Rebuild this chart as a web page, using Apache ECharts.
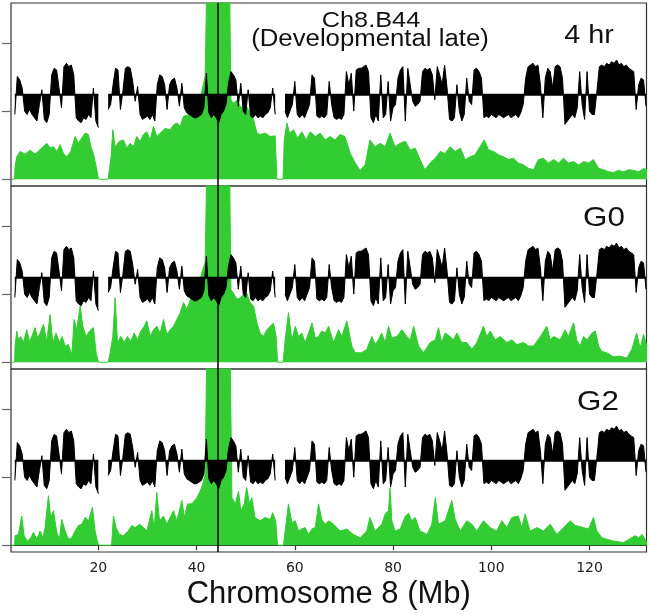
<!DOCTYPE html>
<html>
<head>
<meta charset="utf-8">
<script src="https://cdn.jsdelivr.net/npm/echarts@6/dist/echarts.min.js"></script>
<style>
html, body { margin: 0; padding: 0; background: #fff; }
#chart { width: 649px; height: 614px; }
</style>
</head>
<body>
<div id="chart"></div>
<script>
// black replication-timing track, same in all three panels, sampled every 0.5 Mb from 3.0 Mb
const blackStart = 3.0;
const blackStep = 0.5;
const blackVals = [
  -0.6, 0.55, 0.45, 0.2, -0.5, -0.6, -0.45, -0.6, -0.7, -0.8,
  -0.3, 0.15, -0.75, -0.85, -0.6, 0.6, 0.8, 0.75, 0.2, -0.4,
  0.85, 0.95, 0.85, 0.9, 0.6, -0.7, -0.8, -0.85, -0.7, -0.75,
  -0.6, -0.7, 0.2, -0.8, -1.0, null, null, null, -0.45, -0.3,
  0.3, 0.8, 0.75, -0.45, 0.1, 0.8, 0.85, 0.8, 0.4, -0.2,
  0.25, -0.6, -0.75, -0.7, -0.65, -0.75, -0.6, -0.8, 0.3, 0.6,
  0.55, 0.3, -0.45, 0.3, 0.45, 0.5, 0.2, -0.35, 0.35, -0.4,
  -0.55, -0.6, -0.65, -0.7, -0.7, -0.65, -0.6, -0.4, 0.65, -0.55,
  -0.7, -0.6, -0.7, -0.85, -0.6, -0.5, -0.3, 0.35, 0.7, 0.6,
  0.45, -0.35, 0.35, -0.5, -0.6, 0.15, -0.65, -0.7, -0.6, -0.7,
  -0.65, -0.7, -0.6, -0.55, -0.4, 0.2, -0.6, null, null, null,
  -0.5, -0.7, -0.5, -0.3, 0.4, -0.6, -0.7, -0.6, -0.7, -0.5,
  -0.3, 0.6, 0.5, -0.65, -0.7, -0.65, -0.7, -0.6, 0.4, -0.3,
  -0.7, -0.75, -0.7, -0.75, -0.6, 0.7, 0.3, 0.65, -0.5, 0.75,
  0.8, 0.8, 0.85, 0.9, 0.7, -0.7, -0.85, -0.6, -0.8, 0.6,
  -0.7, -0.6, 0.4, -0.8, -0.4, -0.3, 0.5, 0.75, 0.85, -0.8,
  0.8, 0.3, -0.2, -0.35, -0.3, -0.2, 0.7, 0.8, 0.75, 0.8,
  0.6, -0.15, 0.85, 0.6, 0.3, 0.9, 0.2, -0.75, -0.8, -0.7,
  0.3, -0.5, -0.8, -0.6, 0.5, -0.2, -0.3, 0.75, 0.8, 0.7,
  0.5, -0.7, -0.65, -0.7, -0.6, -0.65, -0.7, -0.6, -0.65, -0.7,
  -0.65, -0.6, -0.7, -0.65, -0.6, -0.7, -0.55, -0.3, 0.5, 0.85,
  0.9, 0.95, 0.85, 0.9, 0.3, -0.7, 0.5, 0.8, 0.7, 0.2,
  0.85, 0.9, 0.85, 0.5, -0.9, -0.8, -0.7, -0.6, -0.7, -0.4,
  0.7, -0.3, -0.75, 0.7, -0.5, -0.6, -0.6, 0.1, 0.85, 0.9,
  0.85, 0.95, 0.9, 1.0, 0.95, 1.05, 0.9, 0.95, 0.85, 0.9,
  0.8, 0.75, 0.7, -0.45, 0.3, 0.5, 0.45, -0.35
];

// green signal tracks, [Mb, value]
const green4hr = [
  [2.3,0],[2.95,0],[3.05,0.19],[3.4,0.33],[4.07,0.41],[5.09,0.37],[6.11,0.43],[7.13,0.37],[8.15,0.44],
  [9.5,0.53],[10.18,0.46],[10.86,0.48],[11.54,0.41],[12.22,0.51],[12.9,0.38],[13.58,0.33],[14.39,0.41],
  [15.27,0.63],[15.95,0.53],[16.63,0.61],[17.31,0.68],[17.99,0.66],[18.47,0.48],[19.0,0.38],[19.55,0.19],
  [20.03,0],[22.0,0],[22.6,0.33],[22.95,0.73],[23.42,0.48],[24.3,0.56],[25.12,0.58],[25.8,0.46],
  [26.48,0.53],[27.16,0.48],[27.83,0.63],[28.51,0.56],[29.19,0.66],[29.87,0.7],[30.55,0.58],[31.23,0.78],
  [31.91,0.63],[32.59,0.68],[33.6,0.75],[34.62,0.73],[35.3,0.8],[35.98,0.83],[36.66,0.78],[37.34,0.93],
  [38.36,0.95],[39.38,1.02],[40.05,1.07],[40.73,1.17],[41.28,1.37],[41.75,1.52],[42.1,3.0],[46.7,3.0],
  [47.0,1.17],[47.5,1.12],[48.3,1.17],[48.9,1.07],[49.56,1.05],[50.2,1.07],[50.9,0.98],[51.6,0.88],
  [52.3,0.68],[52.95,0.66],[53.97,0.68],[55.0,0.63],[56.0,0.64],[56.35,0],[57.6,0],[57.85,0.58],
  [58.4,0.83],[58.93,0.68],[59.74,0.73],[60.56,0.61],[61.44,0.7],[62.32,0.58],[63.14,0.7],[64.16,0.63],
  [65.17,0.68],[66.2,0.58],[67.19,0.63],[68.2,0.58],[69.2,0.66],[70.2,0.63],[71.3,0.38],[72.3,0.24],
  [73.3,0.13],[74.3,0.21],[75.3,0.58],[76.35,0.48],[77.4,0.53],[78.4,0.48],[79.4,0.68],[80.4,0.48],
  [81.4,0.53],[82.5,0.56],[83.5,0.43],[84.5,0.46],[85.5,0.29],[86.5,0.14],[87.55,0.24],[88.6,0.31],
  [89.6,0.41],[90.6,0.38],[91.6,0.48],[92.65,0.41],[93.7,0.46],[94.7,0.29],[95.7,0.33],[96.7,0.36],
  [97.7,0.48],[98.55,0.58],[99.45,0.43],[100.45,0.41],[101.5,0.36],[102.5,0.33],[103.5,0.29],[104.5,0.31],
  [105.5,0.24],[106.6,0.21],[107.6,0.16],[108.6,0.14],[109.6,0.29],[110.6,0.31],[111.65,0.24],[112.7,0.29],
  [113.7,0.24],[114.7,0.31],[115.7,0.24],[116.75,0.26],[117.8,0.21],[118.8,0.26],[119.8,0.24],[120.8,0.29],
  [121.85,0.16],[122.9,0.14],[123.9,0.11],[124.9,0.1],[125.9,0.13],[126.9,0.11],[128.0,0.14],[129.0,0.13],
  [130.0,0.11],[131.0,0.16],[131.7,0.14]
];
const greenG0 = [
  [2.3,0],[2.95,0],[3.05,0.24],[3.4,0.46],[3.73,0.33],[4.2,0.38],[4.75,0.29],[5.43,0.48],[5.97,0.31],
  [6.45,0.38],[7.13,0.51],[7.6,0.36],[8.15,0.43],[8.83,0.56],[9.5,0.31],[10.18,0.7],[10.73,0.29],
  [11.4,0.43],[12.08,0.29],[12.63,0.38],[13.24,0.24],[13.92,0.26],[14.6,0.11],[15.07,0.63],[15.6,0.48],
  [16.3,0.83],[16.84,0.53],[17.5,0.38],[18.2,0.46],[19.0,0.51],[19.55,0.14],[20.03,0],[22.0,0],
  [22.4,0.14],[22.95,0.38],[23.42,0.95],[23.9,0.29],[24.58,0.38],[25.25,0.29],[25.93,0.38],[26.6,0.31],
  [27.3,0.43],[27.97,0.33],[28.65,0.46],[29.33,0.53],[29.87,0.61],[30.55,0.38],[31.23,0.48],[31.91,0.53],
  [32.59,0.43],[33.27,0.63],[33.95,0.41],[34.62,0.48],[35.3,0.53],[35.98,0.63],[36.66,0.73],[37.34,0.88],
  [38.02,0.78],[39.04,0.98],[40.05,1.12],[40.73,1.22],[41.28,1.37],[41.75,1.47],[42.1,3.0],[46.7,3.0],
  [47.0,1.07],[47.5,1.02],[48.2,0.93],[48.9,0.95],[49.56,1.0],[50.2,1.02],[50.9,0.88],[51.6,0.83],
  [52.3,0.58],[52.95,0.43],[53.6,0.38],[54.3,0.48],[55.0,0.53],[55.67,0.58],[56.2,0.38],[56.5,0],
  [57.6,0],[58.05,0.33],[58.7,0.73],[59.4,0.33],[60.1,0.53],[60.76,0.38],[61.44,0.43],[62.1,0.29],
  [62.8,0.43],[63.5,0.58],[64.16,0.36],[64.83,0.38],[65.5,0.46],[66.2,0.43],[66.87,0.53],[67.9,0.29],
  [68.9,0.48],[69.56,0.38],[70.6,0.61],[71.6,0.24],[72.3,0.14],[73.6,0.14],[74.65,0.19],[75.7,0.38],
  [76.35,0.26],[77.0,0.33],[77.7,0.43],[78.4,0.29],[79.07,0.53],[79.75,0.36],[80.8,0.38],[81.8,0.48],
  [82.8,0.38],[83.5,0.33],[84.2,0.53],[85.2,0.24],[86.2,0.14],[87.55,0.29],[88.6,0.33],[89.25,0.51],
  [89.9,0.29],[90.6,0.43],[91.6,0.38],[92.3,0.33],[93.0,0.43],[94.0,0.29],[95.0,0.29],[96.05,0.19],
  [97.05,0.29],[98.4,0.53],[99.1,0.38],[99.8,0.46],[100.8,0.33],[101.8,0.38],[103.2,0.29],[104.2,0.33],
  [105.2,0.26],[106.6,0.29],[107.6,0.24],[108.6,0.24],[110.0,0.38],[111.3,0.53],[112.0,0.33],[112.7,0.38],
  [114.0,0.33],[115.05,0.48],[115.7,0.38],[116.75,0.58],[117.4,0.33],[118.1,0.24],[118.8,0.38],[119.5,0.33],
  [120.5,0.43],[121.2,0.46],[121.85,0.24],[122.5,0.16],[123.5,0.14],[124.9,0.08],[126.25,0.09],[127.6,0.06],
  [128.6,0.19],[129.6,0.43],[130.3,0.21],[131.0,0.41],[131.7,0.24]
];
const greenG2 = [
  [2.3,0],[2.95,0],[3.05,0.14],[3.73,0.16],[4.4,0.43],[4.9,0.14],[5.57,0.06],[6.25,0.11],[6.8,0.19],
  [7.47,0.09],[8.15,0.21],[8.7,0.11],[9.16,0.26],[9.84,0.73],[10.3,0.41],[10.86,0.51],[11.54,0.19],
  [12.08,0.09],[12.56,0.38],[13.24,0.21],[13.92,0.09],[14.6,0.11],[15.27,0.21],[15.95,0.29],[16.63,0.31],
  [17.31,0.41],[18.0,0.36],[18.8,0.56],[19.35,0.21],[19.8,0.06],[20.1,0],[22.7,0],[23.08,0.43],
  [23.6,0.26],[24.3,0.16],[25.1,0.14],[26.1,0.21],[26.8,0.29],[27.5,0.26],[28.4,0.31],[29.2,0.26],
  [29.87,0.21],[30.9,0.51],[31.36,0.24],[31.9,0.78],[32.45,0.36],[33.27,0.43],[33.95,0.31],[34.62,0.41],
  [35.3,0.51],[35.98,0.36],[37.0,0.66],[37.54,0.41],[38.15,0.61],[39.04,0.61],[40.05,0.7],[40.73,0.8],
  [41.28,0.9],[41.75,1.05],[42.1,3.0],[46.8,3.0],[47.2,0.7],[47.9,0.61],[48.55,0.8],[49.0,0.51],
  [49.7,0.61],[50.2,0.85],[50.8,0.61],[51.25,0.7],[51.9,0.41],[52.95,0.36],[53.97,0.41],[55.0,0.38],
  [55.5,0.48],[56.1,0.36],[56.5,0],[57.7,0],[58.05,0.21],[58.7,0.61],[59.4,0.33],[60.1,0.36],
  [60.76,0.21],[61.44,0.24],[62.1,0.26],[62.8,0.16],[63.5,0.24],[64.16,0.26],[64.83,0.61],[65.5,0.38],
  [66.2,0.31],[66.87,0.36],[67.9,0.31],[69.2,0.21],[70.6,0.24],[71.9,0.16],[73.3,0.11],[74.65,0.21],
  [75.3,0.41],[76.35,0.21],[77.7,0.31],[78.4,0.46],[79.07,0.51],[79.4,0.85],[79.75,0.36],[80.4,0.21],
  [81.45,0.24],[82.5,0.43],[83.15,0.47],[83.8,0.36],[84.5,0.41],[85.5,0.21],[86.9,0.16],[87.9,0.31],
  [88.6,0.7],[89.25,0.31],[90.6,0.36],[91.97,0.66],[92.65,0.38],[93.7,0.21],[95.0,0.36],[96.05,0.31],
  [97.05,0.21],[98.4,0.36],[99.8,0.26],[101.1,0.21],[102.15,0.36],[103.2,0.26],[104.2,0.41],[105.5,0.43],
  [106.2,0.26],[106.9,0.46],[107.9,0.21],[109.3,0.26],[110.6,0.21],[112.0,0.31],[113.35,0.16],[114.7,0.26],
  [116.1,0.36],[117.1,0.29],[118.8,0.26],[119.8,0.24],[120.8,0.41],[121.5,0.21],[122.5,0.11],[124.9,0.06],
  [126.9,0.04],[129.3,0.14],[130.0,0.11],[130.7,0.16],[131.7,0.04]
];

const panelNames = ['4 hr', 'G0', 'G2'];
const greenTracks = [green4hr, greenG0, greenG2];
const xTicks = [20, 40, 60, 80, 100, 120];
const markerMb = 44.4;

const chart = echarts.init(document.getElementById('chart'));

const blackData = blackVals.map((v, i) => [blackStart + i * blackStep, v]);
const baseData = blackVals.map((v, i) => [blackStart + i * blackStep, v === null ? null : 0]);

const FONT = 'Liberation Sans';
const GREEN = '#33cc33';
const panelTop = [3, 186, 369];
const panelH = 183;

const grid = [], xAxis = [], yAxis = [], series = [];
panelNames.forEach((name, i) => {
  grid.push({
    left: 11, right: 2.5, top: panelTop[i], height: panelH,
    show: true, borderColor: '#333', borderWidth: 1.2,
    outerBoundsMode: 'none'
  });
  const last = i === panelNames.length - 1;
  xAxis.push({
    type: 'value', gridIndex: i, min: 2.22, max: 131.6,
    axisLine: { show: last, lineStyle: { color: '#333', width: 1.2 } },
    splitLine: { show: false },
    axisTick: last ? {
      show: true, customValues: xTicks, length: 5, lineStyle: { color: '#333', width: 1.2 }
    } : { show: false },
    axisLabel: last ? {
      show: true, customValues: xTicks, fontSize: 14, fontFamily: 'DejaVu Sans', color: '#222', margin: 9
    } : { show: false },
    name: last ? 'Chromosome 8 (Mb)' : '',
    nameLocation: 'middle', nameGap: 27,
    nameTextStyle: { fontSize: 31, fontFamily: FONT, color: '#111' }
  });
  // green scale (with the small ticks on the left)
  yAxis.push({
    type: 'value', gridIndex: i, min: -0.1, max: 2.6,
    axisLine: { show: false }, splitLine: { show: false }, axisLabel: { show: false },
    axisTick: { show: true, length: 9, customValues: [0, 1, 2], lineStyle: { color: '#666', width: 1.2 } }
  });
  // black scale, zero sits at the baseline
  yAxis.push({ type: 'value', gridIndex: i, min: -2.77, max: 2.78, show: false });

  series.push({
    type: 'line', xAxisIndex: i, yAxisIndex: 2 * i, data: greenTracks[i],
    symbol: 'none', z: 2,
    lineStyle: { color: GREEN, width: 1 },
    areaStyle: { color: GREEN, opacity: 1 }
  });
  series.push({
    type: 'line', xAxisIndex: i, yAxisIndex: 2 * i + 1, data: blackData,
    symbol: 'none', z: 3, connectNulls: false,
    lineStyle: { color: '#000', width: 1 },
    areaStyle: { color: '#000', opacity: 1 }
  });
  series.push({
    type: 'line', xAxisIndex: i, yAxisIndex: 2 * i + 1, data: baseData,
    symbol: 'none', z: 4, connectNulls: false,
    lineStyle: { color: '#000', width: 2 },
    markLine: {
      silent: true, symbol: 'none', label: { show: false },
      lineStyle: { color: '#000', width: 1.5, type: 'solid' },
      data: [{ xAxis: markerMb }]
    }
  });
});

const label = (text, x, y, size, sx) => ({
  type: 'text', x: x, y: y, scaleX: sx, z: 10,
  style: { text: text, fontSize: size, fontFamily: FONT, fill: '#111', textAlign: 'center', textVerticalAlign: 'middle' }
});

chart.setOption({
  animation: false,
  backgroundColor: '#fff',
  grid: grid,
  xAxis: xAxis,
  yAxis: yAxis,
  series: series,
  graphic: [
    label('Ch8.B44', 371, 21, 22, 1.15),
    label('(Developmental late)', 370, 40, 23, 1.12),
    label('4 hr', 589, 36, 25, 1.15),
    label('G0', 604, 218, 28, 1.12),
    label('G2', 598, 402, 28, 1.12)
  ]
});
</script>
</body>
</html>
